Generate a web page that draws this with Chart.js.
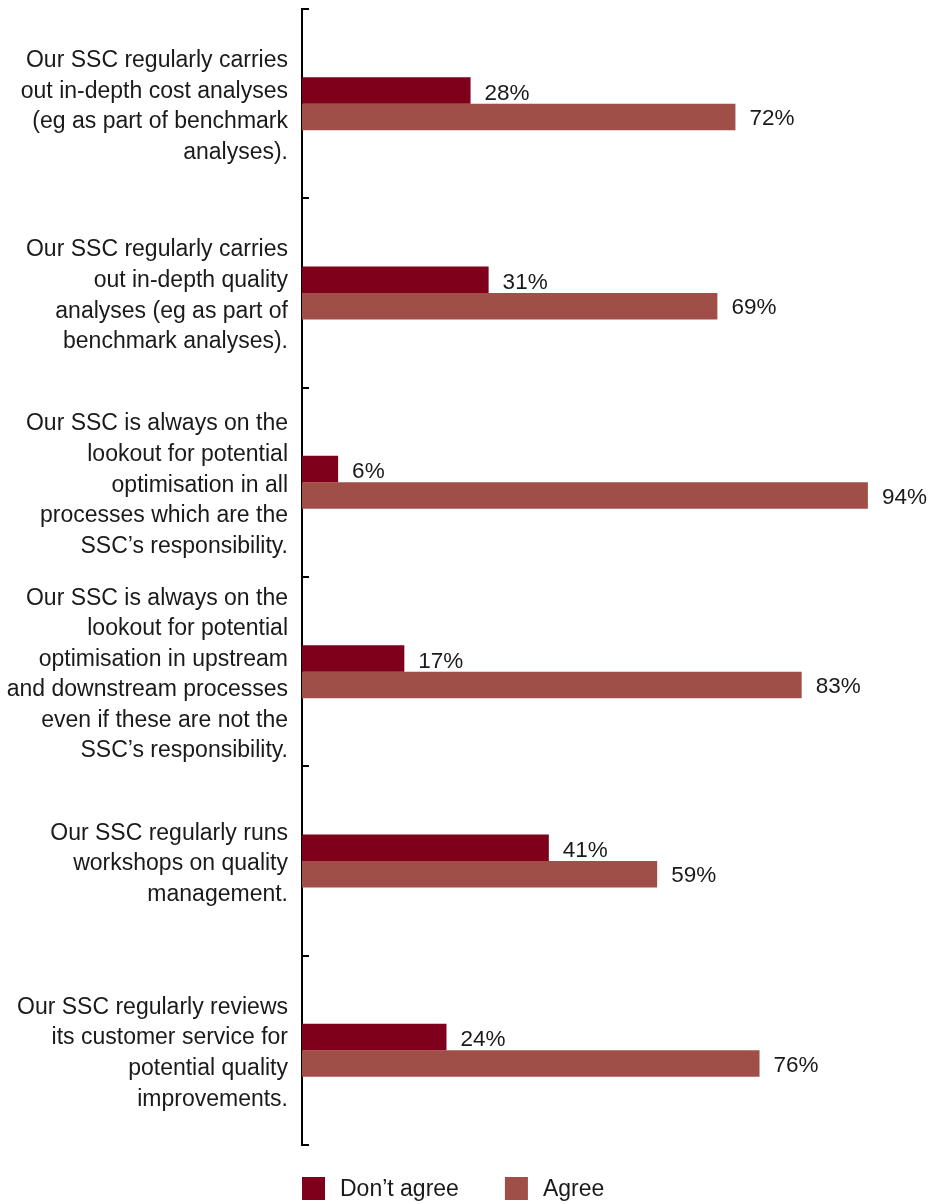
<!DOCTYPE html>
<html>
<head>
<meta charset="utf-8">
<script src="https://cdn.jsdelivr.net/npm/chart.js@4"></script>
<style>
  html, body { margin: 0; padding: 0; background: #fff; }
  #wrap { width: 929px; height: 1204px; position: relative; }
</style>
</head>
<body>
<div id="wrap"><canvas id="ssc_chart"></canvas></div>
<script>
const categories = [
    ['Our SSC regularly carries', 'out in-depth cost analyses', '(eg as part of benchmark', 'analyses).'],
    ['Our SSC regularly carries', 'out in-depth quality', 'analyses (eg as part of', 'benchmark analyses).'],
    ['Our SSC is always on the', 'lookout for potential', 'optimisation in all', 'processes which are the', 'SSC\u2019s responsibility.'],
    ['Our SSC is always on the', 'lookout for potential', 'optimisation in upstream', 'and downstream processes', 'even if these are not the', 'SSC\u2019s responsibility.'],
    ['Our SSC regularly runs', 'workshops on quality', 'management.'],
    ['Our SSC regularly reviews', 'its customer service for', 'potential quality', 'improvements.']
];
const dont_agree = [28, 31, 6, 17, 41, 24];
const agree = [72, 69, 94, 83, 59, 76];
const series_names = ['Don\u2019t agree', 'Agree'];

const font_family = '"Liberation Sans", Arial, Helvetica, sans-serif';
const text_color = '#1a1a1a';

// percent labels just past the end of each bar
const value_labels = {
    id: 'value_labels',
    afterDatasetsDraw(chart) {
        const ctx = chart.ctx;
        ctx.save();
        ctx.font = '22.5px ' + font_family;
        ctx.fillStyle = text_color;
        ctx.textAlign = 'left';
        ctx.textBaseline = 'middle';
        chart.data.datasets.forEach((ds, i) => {
            chart.getDatasetMeta(i).data.forEach((bar, j) => {
                ctx.fillText(ds.data[j] + '%', bar.x + 14, bar.y + (i === 0 ? 3 : 2));
            });
        });
        ctx.restore();
    }
};

// legend row under the plot, lined up with the axis
const bottom_legend = {
    id: 'bottom_legend',
    afterDraw(chart) {
        const ctx = chart.ctx;
        ctx.save();
        ctx.font = '23px ' + font_family;
        ctx.textAlign = 'left';
        ctx.textBaseline = 'middle';
        let x = chart.chartArea.left;
        const top = 1177;
        chart.data.datasets.forEach(ds => {
            ctx.fillStyle = ds.backgroundColor;
            ctx.fillRect(x, top, 23, 23);
            ctx.fillStyle = text_color;
            ctx.fillText(ds.label, x + 38, top + 13);
            x += 38 + ctx.measureText(ds.label).width + 46;
        });
        ctx.restore();
    }
};

const ctx = document.getElementById('ssc_chart').getContext('2d');
new Chart(ctx, {
    type: 'bar',
    data: {
        labels: categories,
        datasets: [{
            label: series_names[0],
            data: dont_agree,
            backgroundColor: '#7e001b'
        }, {
            label: series_names[1],
            data: agree,
            backgroundColor: '#a04e48'
        }]
    },
    options: {
        indexAxis: 'y',
        responsive: true,
        maintainAspectRatio: false,
        animation: false,
        categoryPercentage: 0.28,
        barPercentage: 1,
        layout: { padding: { top: 9, right: 25, bottom: 59, left: 0 } },
        scales: {
            x: {
                display: false,
                min: 0,
                max: 100
            },
            y: {
                grid: {
                    offset: true,
                    drawOnChartArea: false,
                    drawTicks: true,
                    tickLength: -7,
                    color: '#000',
                    lineWidth: 2
                },
                border: { color: '#000', width: 2 },
                ticks: {
                    autoSkip: false,
                    padding: 21,
                    labelOffset: 3,
                    color: text_color,
                    font: { family: font_family, size: 23, lineHeight: 1.33 }
                },
                afterFit: scale => {
                    scale.width = 302;
                    // labels sit inside their bands, no extra room needed above/below
                    scale.paddingTop = 0;
                    scale.paddingBottom = 0;
                }
            }
        },
        plugins: {
            legend: { display: false },
            tooltip: { enabled: false }
        }
    },
    plugins: [value_labels, bottom_legend]
});
</script>
</body>
</html>
